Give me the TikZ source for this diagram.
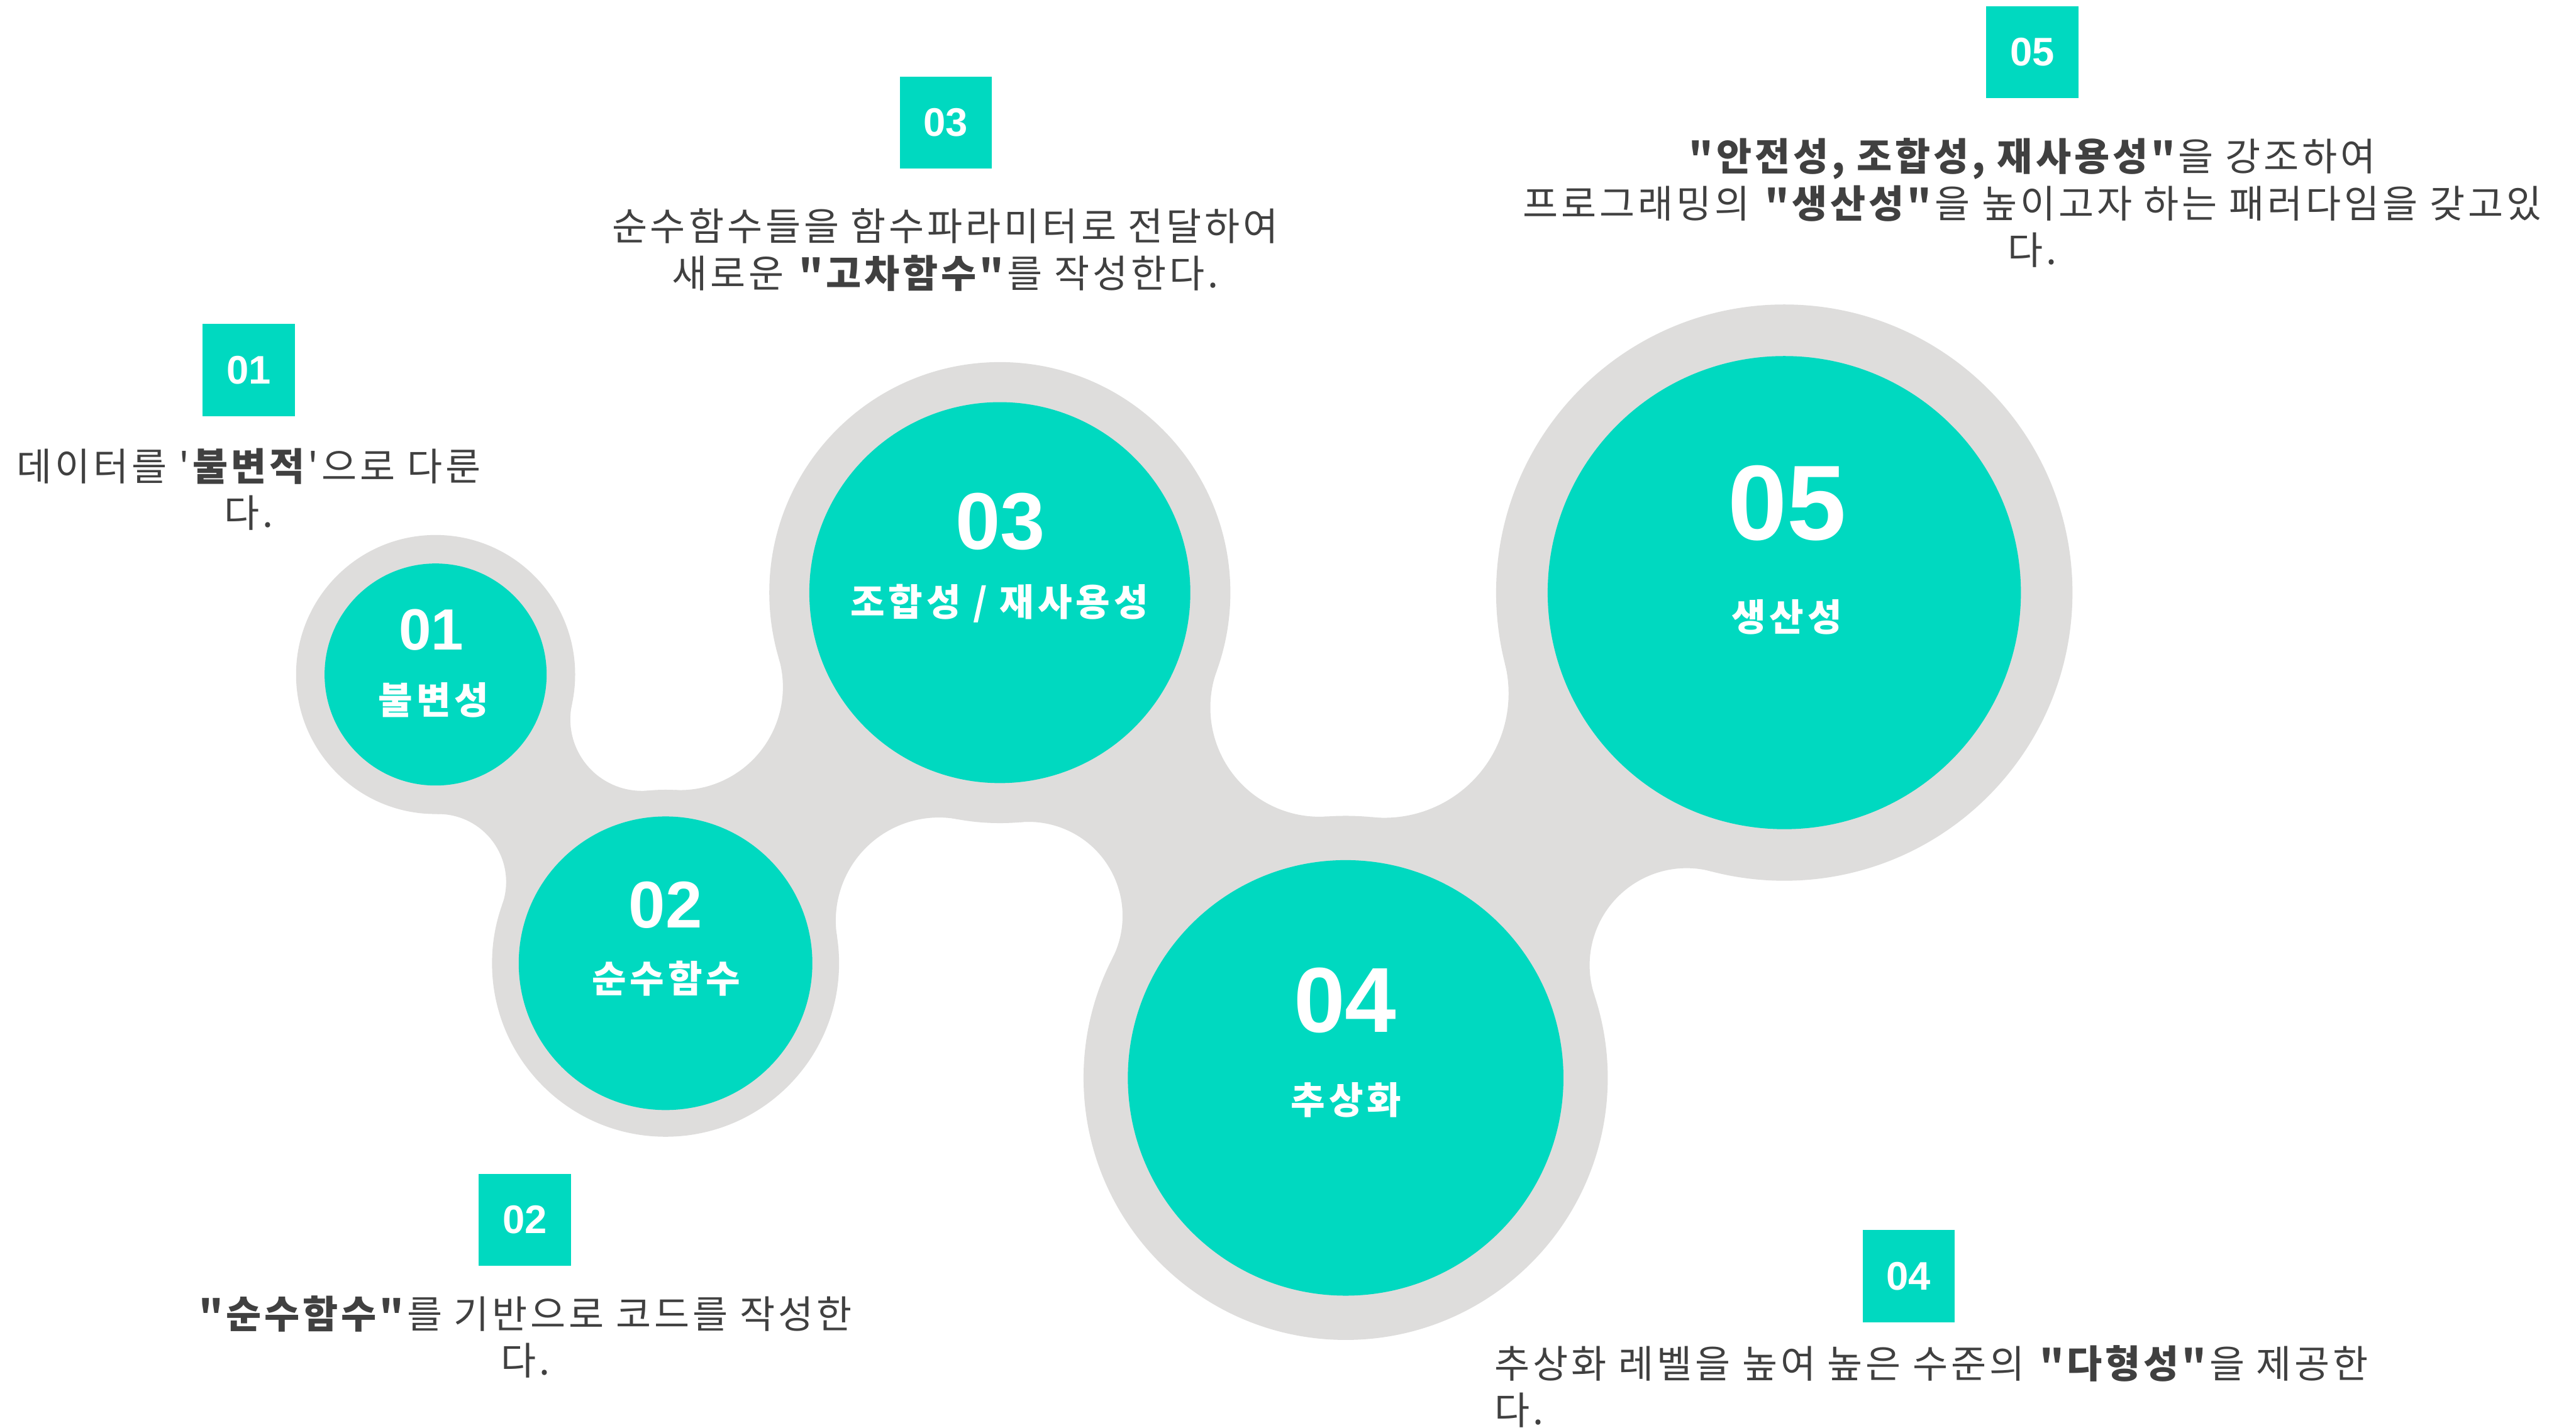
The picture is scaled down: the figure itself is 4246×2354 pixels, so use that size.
\documentclass[tikz,border=0pt]{standalone}
\usepackage{fontspec}
\newfontfamily\kr{Noto Sans CJK KR}[LetterSpace=8]
\newfontfamily\krb{Noto Sans CJK KR}[LetterSpace=10]
\newfontfamily\lat{Liberation Sans}
\definecolor{tealc}{RGB}{0,217,192}
\definecolor{greyc}{RGB}{222,221,220}
\definecolor{txtc}{RGB}{64,64,64}
% bridge between two circles with concave fillets
% #1,#2 centre 1, #3 radius 1, #4,#5 centre 2, #6 radius 2, #7 fillet left, #8 fillet right
\newcommand\mbridge[8]{%
\pgfmathsetmacro\bdx{(#4-#1)/100}%
\pgfmathsetmacro\bdy{(#5-#2)/100}%
\pgfmathsetmacro\bd{sqrt(\bdx*\bdx+\bdy*\bdy)}%
\pgfmathsetmacro\bth{atan2(\bdy,\bdx)}%
\pgfmathsetmacro\baa{(#3+#7)/100}%
\pgfmathsetmacro\bba{(#6+#7)/100}%
\pgfmathsetmacro\bal{acos((\baa*\baa+\bd*\bd-\bba*\bba)/(2*\baa*\bd))}%
\pgfmathsetmacro\bPx{#1+100*\baa*cos(\bth+\bal)}%
\pgfmathsetmacro\bPy{#2+100*\baa*sin(\bth+\bal)}%
\pgfmathsetmacro\bqa{atan2(\bPy-#5,\bPx-#4)}%
\pgfmathsetmacro\bsa{\bth+\bal+180}%
\pgfmathsetmacro\bda{mod(\bqa-\bth-\bal+720,360)}%
\pgfmathsetmacro\bda{\bda>180?\bda-360:\bda}%
\pgfmathsetmacro\bab{(#3+#8)/100}%
\pgfmathsetmacro\bbb{(#6+#8)/100}%
\pgfmathsetmacro\bbe{acos((\bab*\bab+\bd*\bd-\bbb*\bbb)/(2*\bab*\bd))}%
\pgfmathsetmacro\bQx{#1+100*\bab*cos(\bth-\bbe)}%
\pgfmathsetmacro\bQy{#2+100*\bab*sin(\bth-\bbe)}%
\pgfmathsetmacro\bqb{atan2(\bQy-#5,\bQx-#4)}%
\pgfmathsetmacro\bsb{\bqb+180}%
\pgfmathsetmacro\bdb{mod(\bth-\bbe-\bqb+720,360)}%
\pgfmathsetmacro\bdb{\bdb>180?\bdb-360:\bdb}%
\fill[greyc] (#1,#2) -- ({#1+#3*cos(\bth+\bal)},{#2+#3*sin(\bth+\bal)})
  arc[start angle=\bsa, delta angle=\bda, radius=#7] -- (#4,#5)
  -- ({#4+#6*cos(\bqb)},{#5+#6*sin(\bqb)})
  arc[start angle=\bsb, delta angle=\bdb, radius=#8] -- cycle;
}
\begin{document}
\begin{tikzpicture}[x=0.1mm,y=0.1mm,
  sq/.style={fill=tealc, minimum size=15.2mm, inner sep=0, text=white, font=\lat\bfseries\fontsize{18.7}{20}\selectfont},
  gc/.style={circle, fill=greyc, inner sep=0},
  tc/.style={circle, fill=tealc, inner sep=0},
  lab/.style={text=white, inner sep=0, font=\krb\bfseries\fontsize{17.5}{20}\selectfont},
  desc/.style={text=txtc, inner sep=0, align=center, font=\kr\fontsize{18}{22}\selectfont}]
\fill[white] (0,0) rectangle (4246,2354);
\useasboundingbox (0,0) rectangle (4246,2354);

% grey bridges
\mbridge{718}{1242}{230}{1097}{766}{286}{118}{112}
\mbridge{1097}{766}{286}{1648}{1377}{380}{170}{170}
\mbridge{1648}{1377}{380}{2218}{577}{432}{180}{155}
\mbridge{2218}{577}{432}{2941}{1377}{475}{205}{160}

% grey rings
\node[gc, minimum size=46mm] (g1) at (718,1242) {};
\node[gc, minimum size=57.2mm] (g2) at (1097,766) {};
\node[gc, minimum size=76mm] (g3) at (1648,1377) {};
\node[gc, minimum size=86.4mm] (g4) at (2218,577) {};
\node[gc, minimum size=95mm] (g5) at (2941,1377) {};

% teal circles
\node[tc, minimum size=36.6mm] (c1) at (718,1242) {};
\node[tc, minimum size=48.4mm] (c2) at (1097,766) {};
\node[tc, minimum size=62.8mm] (c3) at (1648,1377) {};
\node[tc, minimum size=71.8mm] (c4) at (2218,577) {};
\node[tc, minimum size=78mm] (c5) at (2941,1377) {};

% circle labels
\node[text=white, inner sep=0, font=\lat\bfseries\fontsize{27.3}{30}\selectfont] (n1) at (711,1316) {01};
\node[lab] (l1) at (715,1200) {불변성};
\node[text=white, inner sep=0, font=\lat\bfseries\fontsize{31}{34}\selectfont] (n2) at (1097,862) {02};
\node[lab] (l2) at (1098,741) {순수함수};
\node[text=white, inner sep=0, font=\lat\bfseries\fontsize{37.8}{40}\selectfont] (n3) at (1649,1494) {03};
\node[lab] (l3) at (1647,1359) {조합성 / 재사용성};
\node[text=white, inner sep=0, font=\lat\bfseries\fontsize{43.3}{46}\selectfont] (n4) at (2217,705) {04};
\node[lab] (l4) at (2219,541) {추상화};
\node[text=white, inner sep=0, font=\lat\bfseries\fontsize{50}{54}\selectfont] (n5) at (2946,1525) {05};
\node[lab] (l5) at (2945,1337) {생산성};

% small squares
\node[sq] (s1) at (410,1744) {01};
\node[sq] (s2) at (865,343) {02};
\node[sq] (s3) at (1559,2152) {03};
\node[sq] (s4) at (3146,250) {04};
\node[sq] (s5) at (3350,2268) {05};

% descriptions
\node[desc, anchor=north] (d1) at (410,1616) {데이터를 '\textbf{불변적}'으로 다룬\\다.};
\node[desc, anchor=north] (d2) at (866,219) {\textbf{"순수함수"}를 기반으로 코드를 작성한\\다.};
\node[desc, anchor=north] (d3) at (1558,2011) {순수함수들을 함수파라미터로 전달하여\\새로운 \textbf{"고차함수"}를 작성한다.};
\node[desc, anchor=north west, align=left] (d4) at (2463,137) {추상화 레벨을 높여 높은 수준의 \textbf{"다형성"}을 제공한\\다.};
\node[desc, anchor=north] (d5) at (3350,2127) {\textbf{"안전성, 조합성, 재사용성"}을 강조하여\\프로그래밍의 \textbf{"생산성"}을 높이고자 하는 패러다임을 갖고있\\다.};
\end{tikzpicture}
\end{document}
